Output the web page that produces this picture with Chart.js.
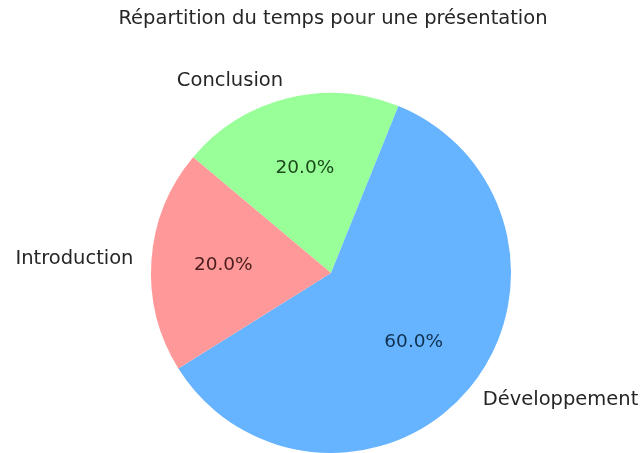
<!DOCTYPE html>
<html>
<head>
<meta charset="utf-8">
<script src="https://cdn.jsdelivr.net/npm/chart.js@4"></script>
<style>
  html, body { margin: 0; padding: 0; background: #fff; overflow: hidden; }
</style>
</head>
<body>
<canvas id="myChart" width="640" height="453"></canvas>
<script>
const categories = ['Introduction', 'Développement', 'Conclusion'];
const shares = [20, 60, 20];
const sliceColors = ['#ff9999', '#66b3ff', '#99ff99'];
const pctColors = ['#4a1c1c', '#10304f', '#1c4a1c'];
const titleText = 'Répartition du temps pour une présentation';

// matplotlib draws counter-clockwise, Chart.js clockwise: reverse the order
const order = [2, 1, 0];

const sliceLabels = {
    id: 'sliceLabels',
    afterDatasetsDraw(chart) {
        const ctx = chart.ctx;
        const meta = chart.getDatasetMeta(0);
        const data = chart.data.datasets[0].data;
        const total = data.reduce((a, b) => a + b, 0);
        ctx.save();
        ctx.textBaseline = 'middle';
        meta.data.forEach((arc, i) => {
            const p = arc.getProps(['x', 'y', 'startAngle', 'endAngle', 'outerRadius'], true);
            const mid = (p.startAngle + p.endAngle) / 2;
            const cos = Math.cos(mid), sin = Math.sin(mid);
            // category label at 1.1 r
            ctx.font = '19.5px "DejaVu Sans", sans-serif';
            ctx.fillStyle = '#262626';
            ctx.textAlign = cos < 0 ? 'right' : 'left';
            ctx.fillText(chart.data.labels[i], p.x + 1.1 * p.outerRadius * cos, p.y + 1.1 * p.outerRadius * sin);
            // percentage at 0.6 r
            ctx.font = '18.5px "DejaVu Sans", sans-serif';
            ctx.fillStyle = chart.data.datasets[0].pctColor[i];
            ctx.textAlign = 'center';
            ctx.fillText((data[i] / total * 100).toFixed(1) + '%', p.x + 0.6 * p.outerRadius * cos, p.y + 0.6 * p.outerRadius * sin);
        });

        // title
        ctx.font = '19.5px "DejaVu Sans", sans-serif';
        ctx.fillStyle = '#262626';
        ctx.textAlign = 'center';
        ctx.fillText(titleText, 333, 19);
        ctx.restore();
    }
};

const ctx = document.getElementById('myChart');

new Chart(ctx, {
    type: 'pie',
    data: {
        labels: order.map(i => categories[i]),
        datasets: [{
            data: order.map(i => shares[i]),
            backgroundColor: order.map(i => sliceColors[i]),
            pctColor: order.map(i => pctColors[i]),
            borderWidth: 0,
            hoverOffset: 0
        }]
    },
    options: {
        responsive: false,
        animation: false,
        rotation: -50,
        layout: {
            padding: { left: 151, right: 129, top: 93, bottom: 0 }
        },
        plugins: {
            legend: { display: false },
            tooltip: { enabled: false },
            title: { display: false }
        }
    },
    plugins: [sliceLabels]
});
</script>
</body>
</html>
